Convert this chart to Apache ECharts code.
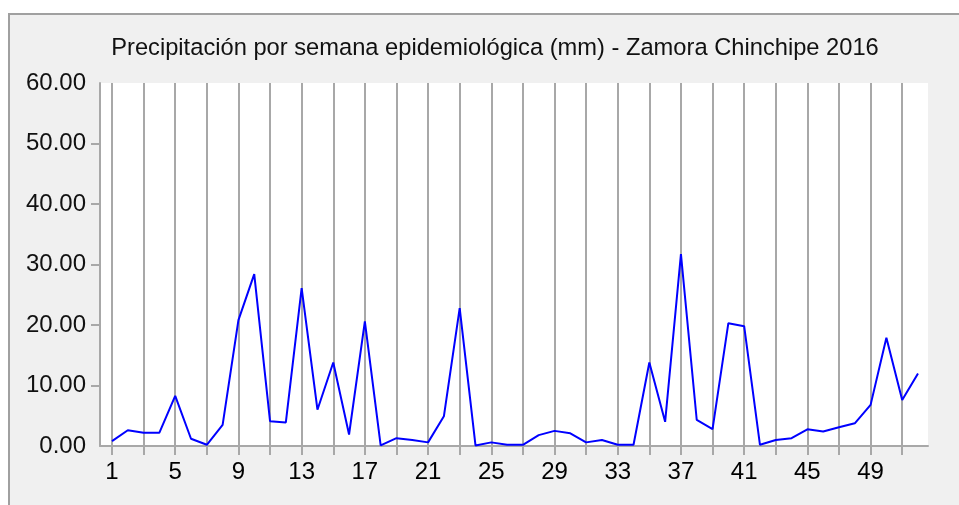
<!DOCTYPE html>
<html>
<head>
<meta charset="utf-8">
<script src="https://cdn.jsdelivr.net/npm/echarts@6/dist/echarts.min.js"></script>
<style>
  html, body { margin: 0; padding: 0; background: #fff; }
  #chart { width: 959px; height: 505px; }
</style>
</head>
<body>
<div id="chart"></div>
<script>
// semanas epidemiologicas 1..52
var weeks = []
for (var i = 1; i <= 52; i++) weeks.push(String(i))
// precipitacion (mm)
var rain = [0.8, 2.6, 2.2, 2.2, 8.3, 1.2, 0.2, 3.5, 20.8, 28.4,
  4.1, 3.9, 26.1, 6.0, 13.8, 1.9, 20.6, 0.1, 1.3, 1.0,
  0.6, 4.9, 22.8, 0.1, 0.6, 0.2, 0.2, 1.8, 2.5, 2.1,
  0.6, 1.0, 0.2, 0.2, 13.8, 4.0, 31.7, 4.3, 2.8, 20.3,
  19.8, 0.2, 1.0, 1.3, 2.75, 2.4, 3.1, 3.75, 6.8, 17.9,
  7.6, 12.0]
var yTicks = [10, 20, 30, 40, 50]
var title = 'Precipitación por semana epidemiológica (mm) - Zamora Chinchipe 2016'

var chart = echarts.init(document.getElementById('chart'))
var font = 'Liberation Sans, Arial, sans-serif'
var option = {
  animation: false,
  backgroundColor: '#fff',
  graphic: [
    {
      type: 'rect',
      z: -10,
      shape: { x: 9, y: 14, width: 960, height: 500 },
      style: { fill: '#f0f0f0', stroke: '#a0a0a0', lineWidth: 2 }
    }
  ],
  title: {
    text: title,
    left: 490,
    textAlign: 'center',
    top: 31,
    textStyle: { fontFamily: font, fontSize: 23.7, fontWeight: 'normal', color: '#111' }
  },
  grid: [
    // data area
    { left: 112, right: 41, top: 83, bottom: 59 },
    // white plot background
    { left: 100, right: 31, top: 83, bottom: 59, show: true, backgroundColor: '#fff', borderWidth: 0, z: -1 }
  ],
  xAxis: [
    {
      type: 'category',
      gridIndex: 0,
      data: weeks,
      boundaryGap: false,
      axisLine: { show: false },
      axisTick: { show: true, interval: 1, length: 9, lineStyle: { color: '#a8a8a8', width: 2 } },
      splitLine: { show: true, interval: 1, lineStyle: { color: '#a8a8a8', width: 2 } },
      axisLabel: { interval: 3, margin: 14, fontFamily: font, fontSize: 24, color: '#000' }
    },
    {
      type: 'value',
      gridIndex: 1,
      position: 'top',
      min: 0,
      max: 1,
      axisLine: { show: true, lineStyle: { color: '#a8a8a8', width: 2 } },
      axisTick: { show: false },
      axisLabel: { show: false },
      splitLine: { show: false }
    }
  ],
  yAxis: [
    {
      type: 'value',
      gridIndex: 0,
      min: 0,
      max: 60,
      show: false,
      splitLine: { show: false }
    },
    {
      type: 'value',
      gridIndex: 1,
      min: 0,
      max: 60,
      interval: 10,
      axisLine: { show: true, lineStyle: { color: '#a8a8a8', width: 2 } },
      axisTick: { show: true, length: 9, customValues: yTicks, lineStyle: { color: '#a8a8a8', width: 2 } },
      splitLine: { show: false },
      axisLabel: {
        margin: 14,
        fontFamily: font,
        fontSize: 24,
        color: '#111',
        formatter: function (v) { return v.toFixed(2) }
      }
    }
  ],
  series: [
    {
      type: 'line',
      xAxisIndex: 0,
      yAxisIndex: 0,
      data: rain,
      symbol: 'none',
      lineStyle: { color: '#0000ff', width: 2 },
      z: 5
    }
  ]
}
chart.setOption(option)
</script>
</body>
</html>
